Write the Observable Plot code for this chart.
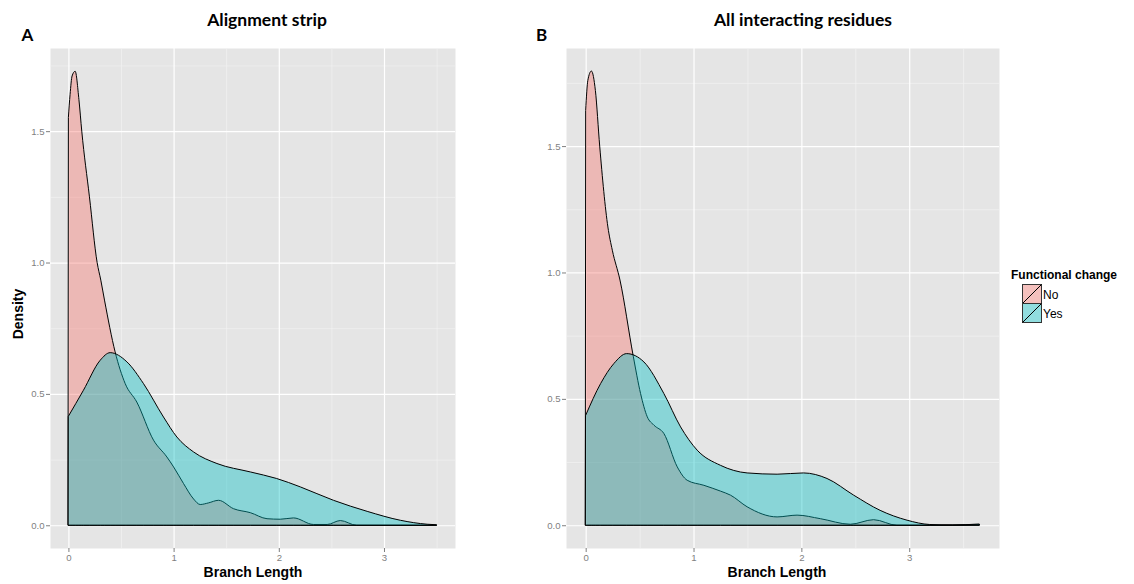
<!DOCTYPE html>
<html>
<head>
<meta charset="utf-8">
<script src="https://cdn.jsdelivr.net/npm/d3@7"></script>
<script src="https://cdn.jsdelivr.net/npm/@observablehq/plot@0.6"></script>
<style>
  html, body { margin: 0; padding: 0; background: #ffffff; }
  #root { position: relative; width: 1134px; height: 584px; overflow: hidden; }
  .panel { position: absolute; top: 0; color: #7F7F7F; }
  #overlay { position: absolute; left: 0; top: 0; pointer-events: none; }
</style>
</head>
<body>
<div id="root">
  <div id="pA" class="panel" style="left:0px"></div>
  <div id="pB" class="panel" style="left:520px"></div>
  <svg id="overlay" width="1134" height="584"></svg>
</div>
<script>
// ---------- data ----------
const panelTitles = ["Alignment strip", "All interacting residues"];
const panelTags = ["A", "B"];
const groups = ["No", "Yes"];
const groupColors = ["#F8766D", "#00BFC4"];
const legendTitle = "Functional change";
const xLabel = "Branch Length";
const yLabel = "Density";

const xTicks = [0, 1, 2, 3];
const xMinor = [0.5, 1.5, 2.5, 3.5];
const yTicks = [0, 0.5, 1.0, 1.5];
const yMinor = [0.25, 0.75, 1.25, 1.75];

// Panel A – Alignment strip
const aNoX  = [0, 0.016, 0.035, 0.064, 0.1, 0.127, 0.2, 0.273, 0.308, 0.343, 0.444, 0.54, 0.65, 0.809, 0.936, 1.0, 1.094, 1.19, 1.253, 1.33, 1.427, 1.57, 1.729, 1.888, 2.014, 2.14, 2.33, 2.46, 2.585, 2.74, 3.0, 3.5];
const aNoY  = [1.554, 1.64, 1.71, 1.728, 1.62, 1.5, 1.25, 1.0, 0.933, 0.857, 0.66, 0.539, 0.469, 0.324, 0.26, 0.222, 0.159, 0.10, 0.079, 0.085, 0.095, 0.063, 0.048, 0.025, 0.023, 0.028, 0.003, 0.003, 0.018, 0.0, 0.0, 0.0];
const aYesX = [0, 0.143, 0.302, 0.397, 0.556, 0.714, 0.904, 1.031, 1.19, 1.412, 1.729, 1.98, 2.205, 2.52, 2.84, 3.156, 3.41, 3.5];
const aYesY = [0.415, 0.514, 0.628, 0.657, 0.622, 0.539, 0.412, 0.336, 0.279, 0.235, 0.203, 0.178, 0.146, 0.095, 0.053, 0.019, 0.004, 0.002];

// Panel B – All interacting residues
const bNoX  = [0, 0.02, 0.053, 0.09, 0.13, 0.206, 0.247, 0.318, 0.441, 0.509, 0.571, 0.633, 0.725, 0.849, 0.941, 1.096, 1.25, 1.343, 1.497, 1.775, 1.96, 2.176, 2.454, 2.67, 2.886, 3.2, 3.65];
const bNoY  = [1.642, 1.76, 1.797, 1.72, 1.5, 1.18, 1.088, 0.97, 0.669, 0.521, 0.429, 0.396, 0.363, 0.231, 0.178, 0.158, 0.135, 0.119, 0.073, 0.033, 0.04, 0.026, 0.004, 0.022, 0.0, 0.0, 0.003];
const bYesX = [0, 0.139, 0.262, 0.38, 0.54, 0.725, 0.88, 1.034, 1.25, 1.497, 1.775, 2.02, 2.238, 2.485, 2.73, 2.98, 3.19, 3.4, 3.65];
const bYesY = [0.435, 0.561, 0.64, 0.679, 0.646, 0.521, 0.389, 0.297, 0.237, 0.207, 0.202, 0.207, 0.185, 0.119, 0.059, 0.02, 0.003, 0.001, 0.005];

const toRows = (xs, ys) => xs.map((x, i) => ({x, y: ys[i]}));

function panel({noX, noY, yesX, yesY, width, mLeft, mRight, xDomain, yDomain}) {
  return Plot.plot({
    width, height: 584,
    marginTop: 48, marginBottom: 36, marginLeft: mLeft, marginRight: mRight,
    style: {background: "transparent", fontFamily: "'Liberation Sans', Arial, sans-serif", fontSize: "9.6px", color: "#7F7F7F", overflow: "visible"},
    x: {domain: xDomain, label: null},
    y: {domain: yDomain, label: null},
    marks: [
      Plot.frame({fill: "#E5E5E5", stroke: "none"}),
      Plot.ruleX(xMinor, {stroke: "#F2F2F2", strokeWidth: 0.7}),
      Plot.ruleY(yMinor, {stroke: "#F2F2F2", strokeWidth: 0.7}),
      Plot.ruleX(xTicks, {stroke: "#FFFFFF", strokeWidth: 1.2}),
      Plot.ruleY(yTicks, {stroke: "#FFFFFF", strokeWidth: 1.2}),
      Plot.axisX({ticks: xTicks, tickSize: 4, tickPadding: 2, tickFormat: d3.format("d"), label: null, color: "#7F7F7F"}),
      Plot.axisY({ticks: yTicks, tickSize: 4, tickPadding: 2, tickFormat: d3.format(".1f"), label: null, color: "#7F7F7F"}),
      Plot.areaY(toRows(noX, noY), {x: "x", y: "y", curve: "monotone-x", fill: groupColors[0], fillOpacity: 0.4, stroke: "#000000", strokeWidth: 1}),
      Plot.areaY(toRows(yesX, yesY), {x: "x", y: "y", curve: "monotone-x", fill: groupColors[1], fillOpacity: 0.4, stroke: "#000000", strokeWidth: 1})
    ]
  });
}

document.getElementById("pA").append(panel({
  noX: aNoX, noY: aNoY, yesX: aYesX, yesY: aYesY,
  width: 470, mLeft: 50, mRight: 15,
  xDomain: [-0.175, 3.675], yDomain: [-0.0865, 1.8165]
}));
document.getElementById("pB").append(panel({
  noX: bNoX, noY: bNoY, yesX: bYesX, yesY: bYesY,
  width: 490, mLeft: 46, mRight: 11,
  xDomain: [-0.1825, 3.8325], yDomain: [-0.09, 1.888]
}));

// ---------- overlay text & legend ----------
const ov = d3.select("#overlay");
const titleFont = "Lato, 'Open Sans', sans-serif";
const axisFont = "'Liberation Sans', Arial, sans-serif";

[[267, panelTitles[0]], [803, panelTitles[1]]].forEach(([cx, t]) => {
  ov.append("text").attr("x", cx).attr("y", 26).attr("text-anchor", "middle")
    .attr("font-family", titleFont).attr("font-weight", "bold").attr("font-size", 17.5).attr("fill", "#000").text(t);
});
[[21.5, panelTags[0]], [536, panelTags[1]]].forEach(([x, t]) => {
  ov.append("text").attr("x", x).attr("y", 40.5)
    .attr("font-family", titleFont).attr("font-weight", "bold").attr("font-size", 17).attr("fill", "#000").text(t);
});
[253, 777].forEach(cx => {
  ov.append("text").attr("x", cx).attr("y", 577).attr("text-anchor", "middle")
    .attr("font-family", axisFont).attr("font-weight", "bold").attr("font-size", 14).attr("fill", "#000").text(xLabel);
});
ov.append("text").attr("transform", "translate(22.5,314) rotate(-90)").attr("text-anchor", "middle")
  .attr("font-family", axisFont).attr("font-weight", "bold").attr("font-size", 14).attr("fill", "#000").text(yLabel);

// legend
ov.append("text").attr("x", 1011).attr("y", 279)
  .attr("font-family", axisFont).attr("font-weight", "bold").attr("font-size", 12).attr("fill", "#000").text(legendTitle);
groups.forEach((g, i) => {
  const y0 = 284 + i * 19;
  ov.append("rect").attr("x", 1022.5).attr("y", y0 + 0.5).attr("width", 19).attr("height", 19).attr("fill", "#F2F2F2");
  ov.append("rect").attr("x", 1022.5).attr("y", y0 + 0.5).attr("width", 19).attr("height", 19)
    .attr("fill", groupColors[i]).attr("fill-opacity", 0.4).attr("stroke", "#333").attr("stroke-width", 1);
  ov.append("line").attr("x1", 1022.5).attr("y1", y0 + 19.5).attr("x2", 1041.5).attr("y2", y0 + 0.5)
    .attr("stroke", "#000").attr("stroke-width", 1);
  ov.append("text").attr("x", 1043).attr("y", y0 + 14.5)
    .attr("font-family", axisFont).attr("font-size", 12).attr("fill", "#000").text(g);
});
</script>
</body>
</html>
